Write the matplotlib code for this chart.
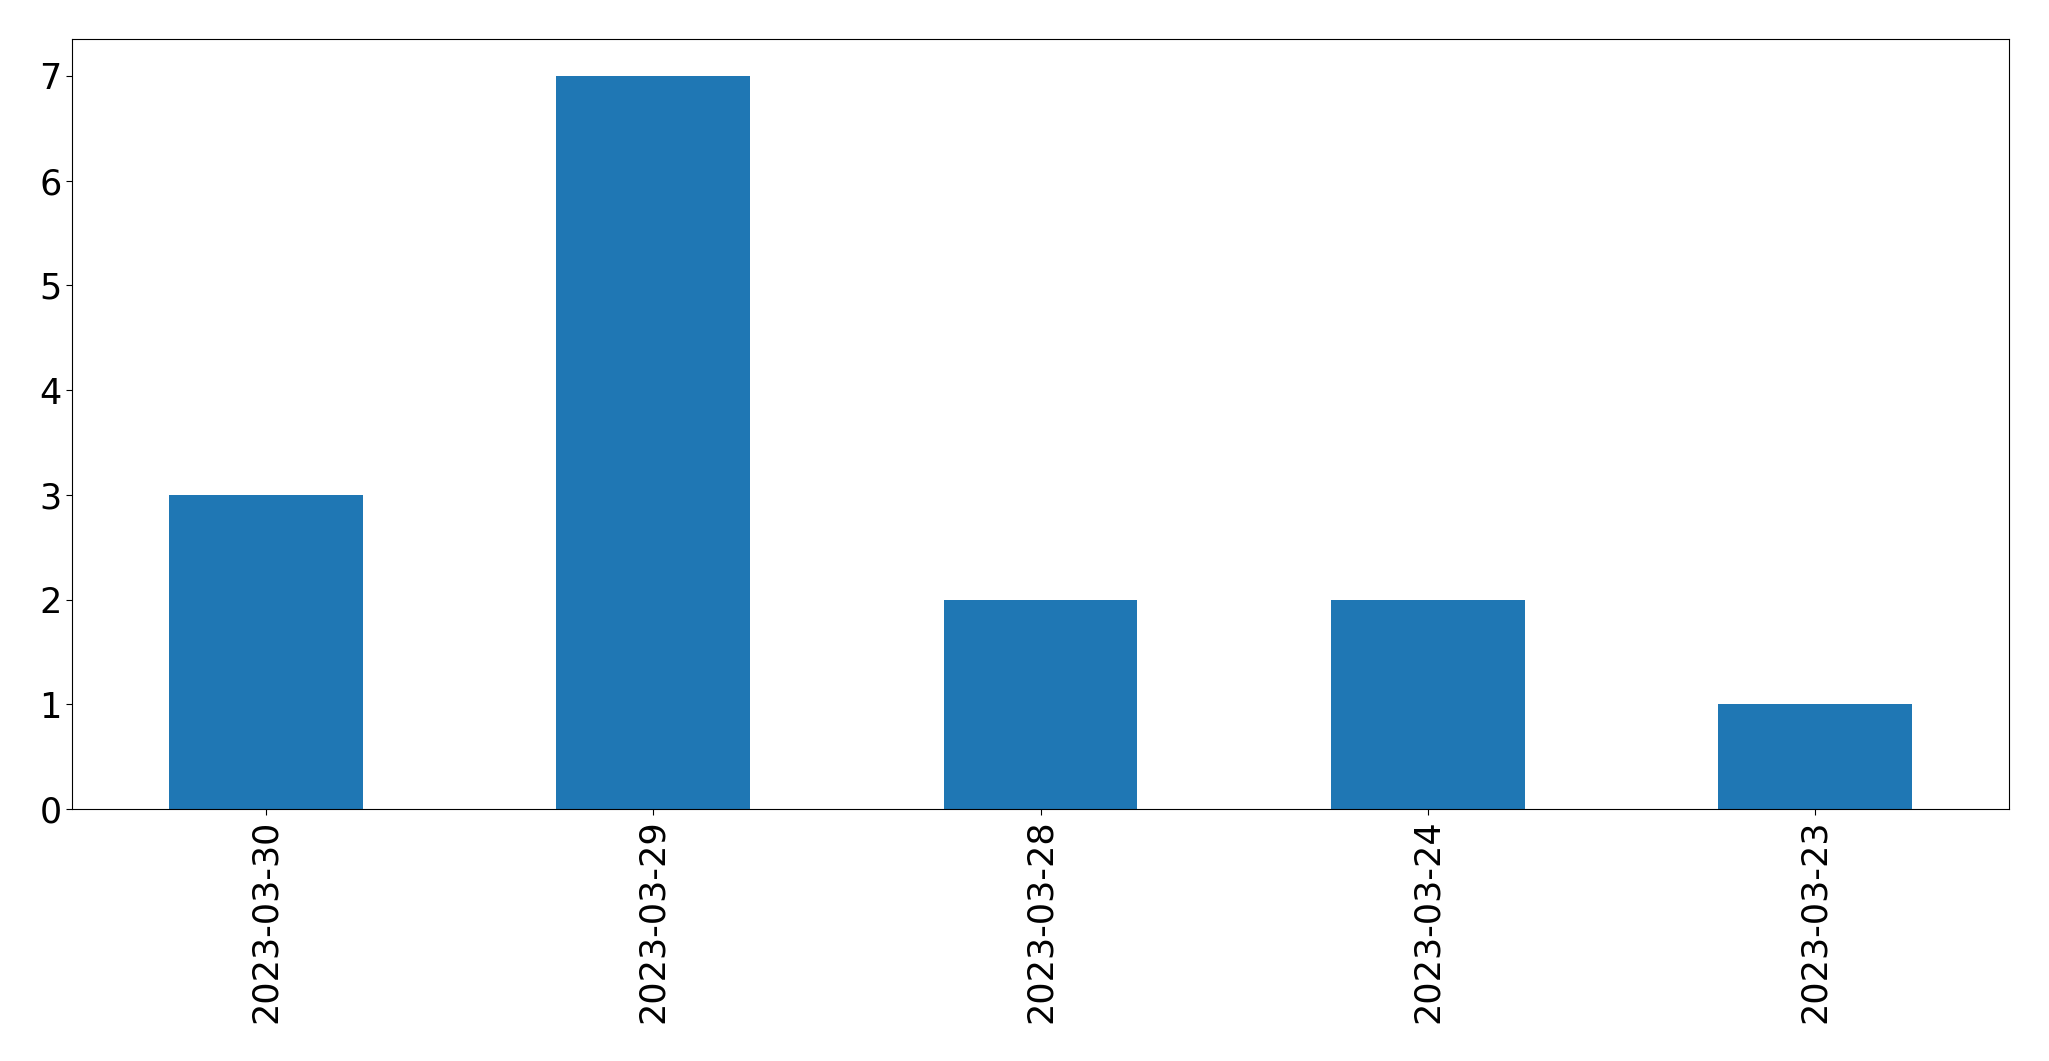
import matplotlib
matplotlib.use("Agg")
import matplotlib.pyplot as plt

dates = ["2023-03-30", "2023-03-29", "2023-03-28", "2023-03-24", "2023-03-23"]
counts = [3, 7, 2, 2, 1]

W, H = 2049, 1061
fig = plt.figure(figsize=(W / 100, H / 100), dpi=100)
ax = fig.add_axes([72 / W, 1 - 809 / H, (2009 - 72) / W, (809 - 39.3) / H])

x = list(range(len(dates)))
ax.bar(x, counts, width=0.5, color="#1f77b4")
ax.set_xlim(-0.5, len(dates) - 0.5)
ax.set_ylim(0, max(counts) * 1.05)
ax.set_xticks(x)
ax.set_xticklabels(dates, rotation=90)
ax.tick_params(axis="both", labelsize=25.2, length=4)

fig.savefig("out.png", dpi=100)
